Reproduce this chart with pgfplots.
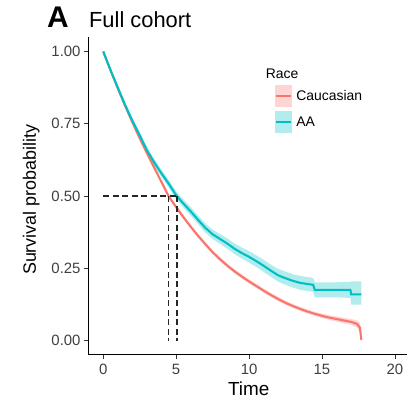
\documentclass[border=0pt]{standalone}
\usepackage{fontspec}
\setmainfont{Liberation Sans}
\usepackage{pgfplots}
\usepackage{pgfplotstable}
\pgfplotsset{compat=1.18}
\usepgfplotslibrary{fillbetween}
\definecolor{cauc}{HTML}{F8766D}
\definecolor{aa}{HTML}{00BFC4}
\pgfplotstableread{
t s lo hi
0 1.000 1.000 1.000
0.5 0.935 0.928 0.942
1 0.875 0.867 0.883
1.5 0.815 0.806 0.824
2 0.760 0.750 0.770
2.5 0.710 0.699 0.721
3 0.658 0.646 0.670
3.5 0.616 0.604 0.628
4 0.578 0.565 0.591
4.5 0.542 0.529 0.555
5 0.503 0.489 0.517
5.5 0.474 0.460 0.488
6 0.447 0.432 0.462
6.5 0.418 0.403 0.433
7 0.390 0.374 0.406
7.5 0.368 0.352 0.384
8 0.352 0.335 0.369
8.5 0.336 0.318 0.354
9 0.318 0.300 0.336
9.5 0.303 0.284 0.322
10 0.290 0.270 0.310
10.5 0.275 0.255 0.295
11 0.259 0.238 0.280
11.5 0.242 0.221 0.263
12 0.226 0.204 0.248
12.5 0.216 0.193 0.239
13 0.207 0.184 0.230
13.5 0.200 0.176 0.224
14.4 0.193 0.169 0.217
14.5 0.176 0.150 0.202
16 0.176 0.150 0.202
16.95 0.176 0.148 0.204
17.0 0.160 0.125 0.205
17.7 0.160 0.125 0.205
}\aatab
\pgfplotstableread{
t s lo hi
0 1.000 1.000 1.000
0.5 0.935 0.930 0.940
1 0.872 0.866 0.878
1.5 0.812 0.806 0.818
2 0.755 0.749 0.761
2.5 0.700 0.693 0.707
3 0.648 0.641 0.655
3.5 0.598 0.591 0.605
4 0.548 0.541 0.555
4.5 0.498 0.491 0.505
5 0.462 0.455 0.469
5.5 0.427 0.420 0.434
6 0.394 0.387 0.401
6.5 0.363 0.356 0.370
7 0.334 0.327 0.341
7.5 0.306 0.299 0.313
8 0.282 0.275 0.289
8.5 0.260 0.253 0.267
9 0.240 0.233 0.247
9.5 0.222 0.215 0.229
10 0.205 0.198 0.212
10.5 0.189 0.182 0.196
11 0.173 0.166 0.180
11.5 0.158 0.151 0.165
12 0.144 0.137 0.151
12.5 0.131 0.124 0.138
13 0.120 0.113 0.127
13.5 0.110 0.103 0.117
14 0.101 0.094 0.108
14.5 0.093 0.086 0.100
15 0.086 0.078 0.094
15.5 0.080 0.072 0.088
16 0.075 0.066 0.084
16.5 0.070 0.061 0.079
17 0.065 0.055 0.075
17.4 0.058 0.046 0.070
17.6 0.045 0.030 0.062
17.7 0.003 0.000 0.030
}\cautab
\begin{document}
\begin{tikzpicture}
\path (0bp,0bp) rectangle (407bp,400bp);
\begin{axis}[
  at={(88.3bp,45bp)}, anchor=south west,
  scale only axis, width=318.7bp, height=318bp,
  xmin=-1.03, xmax=20.8, ymin=-0.048, ymax=1.05,
  axis x line*=bottom, axis y line*=left,
  axis line style={black, line width=0.9pt, -},
  xtick={0,5,10,15,20}, ytick={0,0.25,0.5,0.75,1},
  yticklabel style={/pgf/number format/fixed, /pgf/number format/fixed zerofill, /pgf/number format/precision=2},
  /pgf/number format/assume math mode=true,
  tick align=outside, major tick length=4.5bp,
  tick style={black!80, line width=0.7pt},
  ticklabel style={font=\fontsize{15}{17}\selectfont, text=black!75},
  yticklabel style={inner sep=0pt, xshift=-3bp},
  xticklabel style={inner sep=0pt, yshift=-5bp},
  legend style={at={(0.586,0.849)}, anchor=north west, draw=none, fill=none,
    font=\fontsize{14}{16}\selectfont, row sep=4bp, column sep=2bp, inner sep=0pt,
    nodes={inner sep=2bp}},
  legend cell align=left,
]
\addplot[draw=none, name path=cl, forget plot] table[x=t,y=lo]{\cautab};
\addplot[draw=none, name path=ch, forget plot] table[x=t,y=hi]{\cautab};
\addplot[cauc, fill opacity=0.3, draw=none, forget plot] fill between[of=cl and ch];
\addplot[draw=none, name path=al, forget plot] table[x=t,y=lo]{\aatab};
\addplot[draw=none, name path=ah, forget plot] table[x=t,y=hi]{\aatab};
\addplot[aa, fill opacity=0.3, draw=none, forget plot] fill between[of=al and ah];
\addplot[cauc, line width=2.1pt, no marks,
  legend image code/.code={\fill[cauc!30] (0bp,-10bp) rectangle (15bp,10bp); \draw[cauc, line width=2.5pt] (0bp,0bp) -- (15bp,0bp);}]
  table[x=t,y=s]{\cautab};
\addlegendentry{Caucasian}
\addplot[aa, line width=2.1pt, no marks,
  legend image code/.code={\fill[aa!30] (0bp,-10bp) rectangle (15bp,10bp); \draw[aa, line width=2.5pt] (0bp,0bp) -- (15bp,0bp);}]
  table[x=t,y=s]{\aatab};
\addlegendentry{AA}
\addplot[black!85, line width=1.4pt, dash pattern=on 6bp off 3.5bp, forget plot] coordinates {(0,0.5) (5.07,0.5)};
\addplot[black!85, line width=1.4pt, dash pattern=on 6bp off 3.5bp, forget plot] coordinates {(4.48,0.5) (4.48,0)};
\addplot[black!85, line width=1.4pt, dash pattern=on 6bp off 3.5bp, forget plot] coordinates {(5.07,0.5) (5.07,0)};
\end{axis}
\node[anchor=base west, inner sep=0pt, font=\fontsize{30}{32}\selectfont\bfseries] at (47bp,372bp) {A};
\node[anchor=base west, inner sep=0pt, font=\fontsize{22}{24}\selectfont] at (89bp,372bp) {Full cohort};
\node[anchor=base west, inner sep=0pt, font=\fontsize{14}{16}\selectfont] at (266bp,321.5bp) {Race};
\node[anchor=base, inner sep=0pt, font=\fontsize{19}{21}\selectfont] at (249bp,4bp) {Time};
\node[anchor=base, rotate=90, inner sep=0pt, font=\fontsize{18}{20}\selectfont] at (36bp,200bp) {Survival probability};
\end{tikzpicture}
\end{document}
